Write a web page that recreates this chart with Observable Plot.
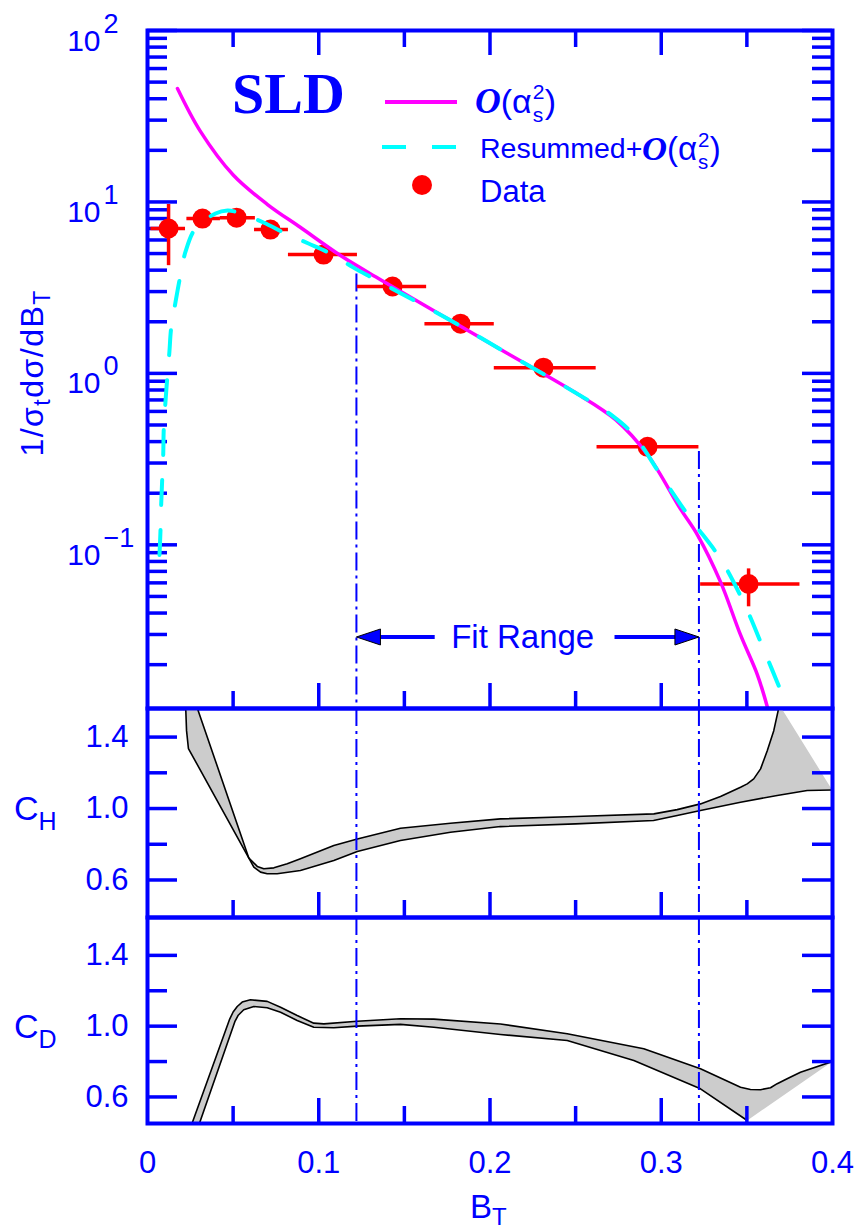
<!DOCTYPE html>
<html><head><meta charset="utf-8">
<script src="https://cdn.jsdelivr.net/npm/d3@7"></script>
<script src="https://cdn.jsdelivr.net/npm/@observablehq/plot@0.6"></script>
<style>
html,body{margin:0;padding:0;background:#fff;}
#chart{position:relative;width:857px;height:1230px;overflow:hidden;}
#chart svg{position:absolute;left:0;}
</style></head><body><div id="chart"></div>
<script>
// ---------------- data ----------------
const binCenter = [0.0123, 0.0321, 0.0520, 0.0718, 0.1028, 0.1431, 0.1828, 0.2312, 0.2920, 0.3510];
const binLow    = [0.0020, 0.0230, 0.0425, 0.0625, 0.0823, 0.1225, 0.1620, 0.2025, 0.2625, 0.3230];
const binHigh   = [0.0222, 0.0426, 0.0630, 0.0823, 0.1226, 0.1630, 0.2025, 0.2620, 0.3220, 0.3810];
const dataValue = [7.0, 8.0, 8.1, 6.9, 4.93, 3.21, 1.95, 1.08, 0.373, 0.0591];
const errLow    = [4.25, 7.5, 7.6, 6.5, 4.70, 3.08, 1.88, 1.04, 0.352, 0.0435];
const errHigh   = [9.66, 8.5, 8.6, 7.3, 5.15, 3.34, 2.02, 1.12, 0.394, 0.0724];

const o2X = [0.0175, 0.0309, 0.0502, 0.0701, 0.0894, 0.1127, 0.1361, 0.1750, 0.2100, 0.2488, 0.2733, 0.2920, 0.3112, 0.3212, 0.3346, 0.3463, 0.3562, 0.3620];
const o2Y = [45.9, 25.8, 14.3, 9.66, 7.09, 4.87, 3.52, 2.09, 1.31, 0.783, 0.537, 0.335, 0.162, 0.114, 0.0608, 0.0298, 0.0174, 0.0113];

const resX = [0.0070, 0.0076, 0.0080, 0.0086, 0.0092, 0.0095, 0.0105, 0.0115, 0.0128, 0.0138, 0.0164, 0.0189, 0.0222, 0.0280, 0.0397, 0.0467, 0.0531, 0.0677, 0.0806, 0.0940, 0.1080, 0.1203, 0.1320, 0.1750, 0.2100, 0.2488, 0.2721, 0.2838, 0.2996, 0.3171, 0.3346, 0.3480, 0.3597, 0.3708];
const resY = [0.0873, 0.122, 0.173, 0.243, 0.340, 0.475, 0.684, 0.931, 1.34, 1.83, 2.62, 3.59, 5.13, 7.00, 8.56, 8.91, 8.67, 7.59, 6.55, 5.72, 4.93, 4.14, 3.57, 2.09, 1.31, 0.783, 0.560, 0.439, 0.256, 0.142, 0.0828, 0.0464, 0.0247, 0.0133];

const chAX = [0.0221, 0.0228, 0.0239, 0.0592, 0.0641, 0.0679, 0.0738, 0.0816, 0.0893, 0.1088, 0.1225, 0.1477, 0.1769, 0.2061, 0.2500, 0.2957, 0.3093, 0.3229, 0.3346, 0.3463, 0.3502, 0.3540, 0.3580, 0.3619, 0.3657, 0.3690];
const chA  = [1.62, 1.436, 1.336, 0.722, 0.676, 0.663, 0.668, 0.691, 0.719, 0.793, 0.830, 0.890, 0.918, 0.942, 0.955, 0.970, 0.994, 1.026, 1.067, 1.119, 1.138, 1.166, 1.222, 1.324, 1.436, 1.580];
const chBX = [0.0280, 0.0292, 0.0592, 0.0621, 0.0660, 0.0699, 0.0757, 0.0893, 0.1088, 0.1225, 0.1477, 0.1769, 0.2061, 0.2500, 0.2955, 0.3093, 0.3229, 0.3463, 0.3677, 0.3852, 0.3998];
const chB  = [1.62, 1.559, 0.722, 0.672, 0.644, 0.635, 0.635, 0.653, 0.709, 0.759, 0.821, 0.867, 0.899, 0.914, 0.933, 0.961, 0.989, 1.035, 1.073, 1.101, 1.104];

const cdAX = [0.0245, 0.0480, 0.0500, 0.0524, 0.0553, 0.0601, 0.0699, 0.0777, 0.0874, 0.0971, 0.1030, 0.1224, 0.1477, 0.1672, 0.2061, 0.2451, 0.2898, 0.3229, 0.3463, 0.3521, 0.3580, 0.3638, 0.3677, 0.3735, 0.3813, 0.3998];
const cdA  = [0.41, 1.040, 1.080, 1.111, 1.136, 1.149, 1.140, 1.107, 1.060, 1.017, 1.013, 1.028, 1.042, 1.040, 1.012, 0.957, 0.872, 0.759, 0.655, 0.642, 0.641, 0.652, 0.675, 0.703, 0.740, 0.800];
const cdBX = [0.0290, 0.0510, 0.0530, 0.0562, 0.0621, 0.0699, 0.0777, 0.0874, 0.0971, 0.1088, 0.1224, 0.1477, 0.1672, 0.2061, 0.2451, 0.2840, 0.3229, 0.3502];
const cdB  = [0.414, 1.025, 1.062, 1.093, 1.111, 1.104, 1.079, 1.032, 0.994, 0.991, 1.000, 1.010, 0.994, 0.953, 0.919, 0.806, 0.646, 0.467];

const fitRange = [0.122, 0.322];
const fitTop = [3.8, 0.35];
const arrowInner = [0.168, 0.273];
const fitArrowY = 0.029;

const xMajor = [0.1, 0.2, 0.3];
const xLabels = [0, 0.1, 0.2, 0.3, 0.4];
const xMinor = [0.05, 0.15, 0.25, 0.35];
const logMajor = [0.1, 1, 10, 100];
const logExp = ["\u22121", "0", "1", "2"];
const logMinor = [0.01, 0.1, 1, 10].flatMap(d => [2,3,4,5,6,7,8,9].map(k => k * d));
const cMajor = [0.6, 1.0, 1.4];
const cMinor = [0.8, 1.2];

// ---------------- styles ----------------
const BLUE = "#0000ff", RED = "#ff0000", MAG = "#ff00ff", CYAN = "#00ffff", GREY = "#cccccc";
const SANS = '"Liberation Sans", Arial, Helvetica, sans-serif';
const SERIF = '"Liberation Serif", "Times New Roman", serif';
const W = 857, ML = 147, MR = 25, innerW = W - ML - MR;
const chart = document.getElementById("chart");

const pts = binCenter.map((x, i) => ({x, xlo: binLow[i], xhi: binHigh[i], y: dataValue[i], ylo: errLow[i], yhi: errHigh[i]}));
const zip = (xs, ys) => xs.map((x, i) => ({x, y: ys[i]}));
const o2 = zip(o2X, o2Y), res = zip(resX, resY);
const chLa = zip(chAX, chA), chLb = zip(chBX, chB);
const cdLa = zip(cdAX, cdA), cdLb = zip(cdBX, cdB);
const chPoly = chLa.concat(chLb.slice().reverse());
const cdPoly = cdLa.concat(cdLb.slice().reverse());
const fitLines = fitRange.map((x, i) => ({x, top: fitTop[i]}));

function frameTicks(yMajor, yMinor, innerH, withTop) {
  const s = {stroke: BLUE, strokeWidth: 3.5};
  const m = [
    Plot.tickY(yMajor, {y: d => d, insetRight: innerW - 30, ...s}),
    Plot.tickY(yMinor, {y: d => d, insetRight: innerW - 20, ...s}),
    Plot.tickY(yMajor, {y: d => d, insetLeft: innerW - 30, ...s}),
    Plot.tickY(yMinor, {y: d => d, insetLeft: innerW - 20, ...s}),
    Plot.tickX(xMajor, {x: d => d, insetTop: innerH - 25, ...s}),
    Plot.tickX(xMinor, {x: d => d, insetTop: innerH - 17, ...s})
  ];
  if (withTop) m.push(
    Plot.tickX(xMajor, {x: d => d, insetBottom: innerH - 25, ...s}),
    Plot.tickX(xMinor, {x: d => d, insetBottom: innerH - 17, ...s})
  );
  return m;
}
const fitStyle = {stroke: BLUE, strokeWidth: 2, strokeDasharray: "18,5,3,5"};
const headRight = {draw(c) { c.moveTo(0, 0); c.lineTo(-24, -8); c.lineTo(-24, 8); c.closePath(); }};
const headLeft  = {draw(c) { c.moveTo(0, 0); c.lineTo(24, -8); c.lineTo(24, 8); c.closePath(); }};
const svgStyle = {background: "transparent", overflow: "visible", fontFamily: SANS};
const band = (poly, la, lb) => [
  Plot.line(poly, {x: "x", y: "y", fill: GREY, stroke: "none", curve: "linear", clip: true}),
  Plot.line(la, {x: "x", y: "y", stroke: "#000", strokeWidth: 1.6, curve: "linear", strokeLinejoin: "round", clip: true}),
  Plot.line(lb, {x: "x", y: "y", stroke: "#000", strokeWidth: 1.6, curve: "linear", strokeLinejoin: "round", clip: true})
];

// ---------------- top panel ----------------
const topH = 710, topMT = 30, topMB = 2, yLogDomain = [0.0111, 100];
const topPlot = Plot.plot({
  width: W, height: topH, marginLeft: ML, marginRight: MR, marginTop: topMT, marginBottom: topMB,
  style: svgStyle,
  x: {domain: [0, 0.4], axis: null},
  y: {type: "log", domain: yLogDomain, axis: null},
  marks: [
    ...frameTicks(logMajor, logMinor, topH - topMT - topMB, true),
    Plot.ruleX(fitLines, {x: "x", y1: "top", y2: yLogDomain[0], ...fitStyle}),
    Plot.ruleY([fitArrowY], {y: d => d, x1: fitRange[0], x2: arrowInner[0], insetLeft: 12, stroke: BLUE, strokeWidth: 4}),
    Plot.ruleY([fitArrowY], {y: d => d, x1: arrowInner[1], x2: fitRange[1], insetRight: 12, stroke: BLUE, strokeWidth: 4}),
    Plot.dot([fitRange[0]], {x: d => d, y: fitArrowY, symbol: headLeft, fill: BLUE, stroke: "#000", strokeWidth: 1}),
    Plot.dot([fitRange[1]], {x: d => d, y: fitArrowY, symbol: headRight, fill: BLUE, stroke: "#000", strokeWidth: 1}),
    Plot.text(["Fit Range"], {x: d3.mean(fitRange), y: fitArrowY, dx: -5, fontSize: 33, fill: BLUE, fontFamily: SANS}),
    Plot.ruleY(pts, {y: "y", x1: "xlo", x2: "xhi", stroke: RED, strokeWidth: 3.5}),
    Plot.ruleX(pts, {x: "x", y1: "ylo", y2: "yhi", stroke: RED, strokeWidth: 3.5}),
    Plot.dot(pts, {x: "x", y: "y", r: 10, fill: RED}),
    Plot.line(o2, {x: "x", y: "y", stroke: MAG, strokeWidth: 3.5, curve: "catmull-rom", clip: true}),
    Plot.line(res, {x: "x", y: "y", stroke: CYAN, strokeWidth: 4, strokeDasharray: "25,25", curve: "catmull-rom", clip: true}),
    Plot.text(logMajor, {y: d => d, frameAnchor: "left", dx: -47, dy: 20, lineAnchor: "bottom", textAnchor: "end", text: () => "10", fontSize: 30, fill: BLUE, fontFamily: SANS}),
    Plot.text(logMajor, {y: d => d, frameAnchor: "left", dx: -44, dy: 2, lineAnchor: "bottom", textAnchor: "start", text: (d, i) => logExp[i], fontSize: 27, fill: BLUE, fontFamily: SANS}),
    Plot.frame({stroke: BLUE, strokeWidth: 4})
  ]
});
topPlot.style.top = "0px";
chart.appendChild(topPlot);

// ---------------- middle panel (C_H) ----------------
const midTop = 700, midH = 220, midMT = 8, midMB = 3;
const midPlot = Plot.plot({
  width: W, height: midH, marginLeft: ML, marginRight: MR, marginTop: midMT, marginBottom: midMB,
  style: svgStyle,
  x: {domain: [0, 0.4], axis: null},
  y: {domain: [0.39, 1.56], axis: null},
  marks: [
    ...band(chPoly, chLa, chLb),
    Plot.ruleX(fitRange, {x: d => d, ...fitStyle}),
    ...frameTicks(cMajor, cMinor, midH - midMT - midMB, false),
    Plot.text(cMajor, {y: d => d, frameAnchor: "left", dx: -19, textAnchor: "end", text: d => d3.format(".1f")(d), fontSize: 31, fill: BLUE, fontFamily: SANS}),
    Plot.frame({stroke: BLUE, strokeWidth: 4})
  ]
});
midPlot.style.top = midTop + "px";
chart.appendChild(midPlot);

// ---------------- bottom panel (C_D) ----------------
const botTop = 909, botH = 321, botMT = 8, botMB = 107;
const botPlot = Plot.plot({
  width: W, height: botH, marginLeft: ML, marginRight: MR, marginTop: botMT, marginBottom: botMB,
  style: svgStyle,
  x: {domain: [0, 0.4], axis: null},
  y: {domain: [0.45, 1.614], axis: null},
  marks: [
    ...band(cdPoly, cdLa, cdLb),
    Plot.ruleX(fitRange, {x: d => d, ...fitStyle}),
    ...frameTicks(cMajor, cMinor, botH - botMT - botMB, false),
    Plot.text(cMajor, {y: d => d, frameAnchor: "left", dx: -19, textAnchor: "end", text: d => d3.format(".1f")(d), fontSize: 31, fill: BLUE, fontFamily: SANS}),
    Plot.text(xLabels, {x: d => d, frameAnchor: "bottom", dy: 49, lineAnchor: "bottom", text: d => String(d), fontSize: 31, fill: BLUE, fontFamily: SANS}),
    Plot.frame({stroke: BLUE, strokeWidth: 4})
  ]
});
botPlot.style.top = botTop + "px";
chart.appendChild(botPlot);

// ---------------- annotations (text with sub/superscripts, legend) ----------------
// O(alpha_s^2): main text, then stacked sub "s" and sup "2", then ")"
function oAlpha(sel, x, y, size) {
  const ss = size * 0.62;
  const t = sel.append("text").attr("x", x).attr("y", y).attr("font-size", size).attr("font-family", SANS);
  t.append("tspan").attr("font-family", SERIF).attr("font-style", "italic").attr("font-weight", "bold").attr("font-size", size * 1.05).text("O");
  t.append("tspan").text("(\u03b1");
  const w = t.node().getComputedTextLength();
  sel.append("text").attr("x", x + w + 1).attr("y", y + size * 0.26).attr("font-size", ss).attr("font-family", SANS).text("s");
  sel.append("text").attr("x", x + w + 1).attr("y", y - size * 0.40).attr("font-size", ss).attr("font-family", SANS).text("2");
  sel.append("text").attr("x", x + w + ss * 0.62).attr("y", y).attr("font-size", size).attr("font-family", SANS).text(")");
}

const ts = d3.select(topPlot);
const yTop = topPlot.scale("y");
const ann = ts.append("g").attr("fill", BLUE).attr("text-anchor", "start");
const yt = ann.append("text").attr("transform", `translate(43,${yTop.apply(1)}) rotate(-90)`)
  .attr("text-anchor", "middle").attr("font-family", SANS).attr("font-size", 32).attr("letter-spacing", 1.5);
yt.append("tspan").text("1/\u03c3");
yt.append("tspan").attr("font-size", 23).attr("dy", 7).text("t");
yt.append("tspan").attr("dy", -7).text("d\u03c3/dB");
yt.append("tspan").attr("font-size", 23).attr("dy", 7).text("T");
ann.append("text").attr("x", 232).attr("y", 113).attr("font-family", SERIF).attr("font-weight", "bold").attr("font-size", 58).text("SLD");
ann.append("line").attr("x1", 385).attr("x2", 457).attr("y1", 102).attr("y2", 102).attr("stroke", MAG).attr("stroke-width", 4);
oAlpha(ann, 475, 113, 34);
ann.append("line").attr("x1", 382).attr("x2", 457).attr("y1", 147).attr("y2", 147).attr("stroke", CYAN).attr("stroke-width", 4).attr("stroke-dasharray", "24,26");
ann.append("text").attr("x", 480).attr("y", 158).attr("font-family", SANS).attr("font-size", 28.5).text("Resummed+");
oAlpha(ann, 642, 160, 33);
ann.append("circle").attr("cx", 422).attr("cy", 185).attr("r", 10).attr("fill", RED);
ann.append("text").attr("x", 480).attr("y", 202).attr("font-family", SANS).attr("font-size", 31).text("Data");

const ms = d3.select(midPlot);
const chT = ms.append("text").attr("text-anchor", "start").attr("x", 14).attr("y", midPlot.scale("y").apply(1.0) + 12).attr("fill", BLUE).attr("font-family", SANS).attr("font-size", 34);
chT.append("tspan").text("C");
chT.append("tspan").attr("font-size", 25).attr("dy", 10).text("H");
const bs = d3.select(botPlot);
const cdT = bs.append("text").attr("text-anchor", "start").attr("x", 14).attr("y", botPlot.scale("y").apply(1.0) + 12).attr("fill", BLUE).attr("font-family", SANS).attr("font-size", 34);
cdT.append("tspan").text("C");
cdT.append("tspan").attr("font-size", 25).attr("dy", 10).text("D");
const btT = bs.append("text").attr("text-anchor", "start").attr("x", 470).attr("y", 1218 - botTop).attr("fill", BLUE).attr("font-family", SANS).attr("font-size", 33);
btT.append("tspan").text("B");
btT.append("tspan").attr("font-size", 24).attr("dy", 7).text("T");
</script></body></html>
